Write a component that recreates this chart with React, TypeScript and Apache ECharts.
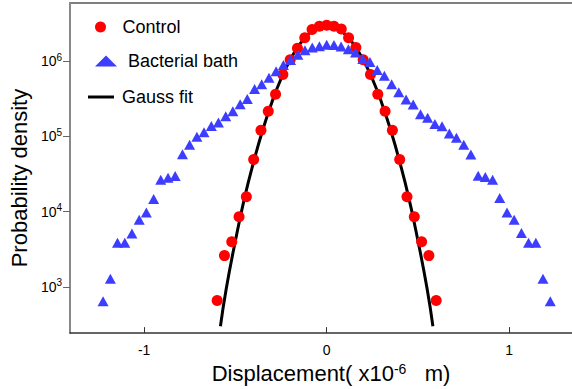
import React, { useEffect, useRef } from "react";
import * as echarts from "echarts";

// Control (red circles)
const controlX = [
  -0.6, -0.56, -0.52, -0.48, -0.44, -0.4, -0.36, -0.32, -0.28, -0.24, -0.2, -0.16, -0.12, -0.08, -0.04, 0,
  0.04, 0.08, 0.12, 0.16, 0.2, 0.24, 0.28, 0.32, 0.36, 0.4, 0.44, 0.48, 0.52, 0.56, 0.6,
];
const controlY = [
  660, 2600, 3970, 8530, 15700, 49300, 120500, 215000, 363000, 660000, 1040000, 1480000, 2040000, 2620000, 2890000, 2980000,
  2890000, 2670000, 2040000, 1510000, 1040000, 660000, 363000, 215000, 120500, 49300, 15700, 8530, 3970, 2600, 660,
];

// Bacterial bath (blue triangles)
const bathX = [
  -1.225, -1.185, -1.146, -1.106, -1.067, -1.027, -0.988, -0.948, -0.909, -0.869, -0.83, -0.79, -0.751, -0.711, -0.672, -0.632,
  -0.593, -0.553, -0.514, -0.474, -0.435, -0.395, -0.356, -0.316, -0.277, -0.237, -0.198, -0.158, -0.119, -0.079, -0.04, 0,
  0.04, 0.079, 0.119, 0.158, 0.198, 0.237, 0.277, 0.316, 0.356, 0.395, 0.435, 0.474, 0.514, 0.553, 0.593, 0.632,
  0.672, 0.711, 0.751, 0.79, 0.83, 0.869, 0.909, 0.948, 0.988, 1.027, 1.067, 1.106, 1.146, 1.185, 1.225,
];
const bathY = [
  646, 1280, 3850, 3850, 5100, 7800, 9700, 14700, 26400, 28200, 29600, 57800, 77400, 98400, 113000, 137000,
  152000, 185000, 215000, 266000, 314000, 424000, 493000, 600000, 729000, 887000, 1030000, 1216000, 1393000, 1510000, 1570000, 1644000,
  1633000, 1556000, 1436000, 1300000, 1062000, 970000, 762000, 637000, 493000, 385000, 309000, 264000, 197000, 176000, 146000, 136000,
  109000, 95500, 77400, 57300, 29900, 28900, 26400, 15200, 9700, 7800, 5200, 3850, 3850, 1280, 646,
];

// Gauss fit (black curve)
const fitX = [
  -0.582, -0.55, -0.5, -0.45, -0.4, -0.35, -0.3, -0.25, -0.2, -0.15, -0.1, -0.05, 0,
  0.05, 0.1, 0.15, 0.2, 0.25, 0.3, 0.35, 0.4, 0.45, 0.5, 0.55, 0.582,
];
const fitY = [
  300, 950, 4100, 15200, 45900, 122000, 284000, 581000, 1040000, 1640000, 2270000, 2770000, 2950000,
  2770000, 2270000, 1640000, 1040000, 581000, 284000, 122000, 45900, 15200, 4100, 950, 300,
];

const xTicks = [-1, 0, 1];
const yTicks = [1000, 10000, 100000, 1000000];

const pairs = (xs: number[], ys: number[]) => xs.map((x, i) => [x, ys[i]]);

export default function App() {
  const ref = useRef<HTMLDivElement>(null);
  useEffect(() => {
    document.body.style.margin = "0";
    const chart = echarts.init(ref.current!, null, { renderer: "svg" });
    const font = "'Liberation Sans', Arial, sans-serif";
    const X_MIN = -1.406;
    const X_MAX = 1.344;
    const Y_MIN = 243;
    const Y_MAX = 5900000;
    const legendBase = {
      orient: "vertical",
      padding: 0,
      itemWidth: 22,
      itemHeight: 11,
      selectedMode: false,
      textStyle: { fontSize: 18, color: "#000", fontFamily: font, padding: [0, 0, 0, 6] },
    };
    chart.setOption({
      animation: false,
      textStyle: { fontFamily: font },
      grid: { left: 69, right: -3, top: 3, bottom: 51, show: false },
      graphic: [
        {
          type: "line",
          shape: { x1: 69, y1: 3, x2: 572, y2: 3 },
          style: { stroke: "#555", lineWidth: 1.5 },
          silent: true,
        },
      ],
      legend: [
        { ...legendBase, data: ["Control"], left: 95, top: 18 },
        { ...legendBase, data: ["Bacterial bath"], left: 95, top: 52 },
        {
          ...legendBase,
          data: [{ name: "Gauss fit", icon: "rect" }],
          left: 88,
          top: 88,
          itemWidth: 26,
          itemHeight: 3,
          textStyle: { ...legendBase.textStyle, padding: [0, 0, 0, 3] },
        },
      ],
      xAxis: {
        type: "value",
        min: X_MIN,
        max: X_MAX,
        position: "bottom",
        axisLine: { show: true, onZero: false, lineStyle: { color: "#333", width: 1.5 } },
        axisTick: { show: true, inside: true, length: 6, customValues: xTicks, lineStyle: { color: "#333" } },
        axisLabel: { customValues: xTicks, margin: 10, fontSize: 14, color: "#000" },
        splitLine: { show: false },
        splitArea: { show: false },
        minorTick: { show: false },
        minorSplitLine: { show: false },
        name: "Displacement( x10{sup|-6}   m)",
        nameLocation: "middle",
        nameGap: 22,
        nameTextStyle: {
          fontSize: 22,
          color: "#000",
          padding: [0, 0, 0, 20],
          rich: { sup: { fontSize: 14, verticalAlign: "top", color: "#000" } },
        },
      },
      yAxis: {
        type: "log",
        logBase: 10,
        min: Y_MIN,
        max: Y_MAX,
        position: "left",
        axisLine: { show: true, onZero: false, lineStyle: { color: "#888", width: 2 } },
        axisTick: { show: true, length: 7, customValues: yTicks, lineStyle: { color: "#666" } },
        axisLabel: {
          customValues: yTicks,
          margin: 8,
          formatter: (v: number) => `{b|10}{s|${Math.round(Math.log10(v))}}`,
          rich: {
            b: { fontSize: 14, color: "#000", lineHeight: 18 },
            s: { fontSize: 10, color: "#000", verticalAlign: "top", lineHeight: 10 },
          },
        },
        splitLine: { show: false },
        splitArea: { show: false },
        minorTick: { show: false },
        minorSplitLine: { show: false },
        name: "Probability density",
        nameLocation: "middle",
        nameGap: 28,
        nameTextStyle: { fontSize: 22, color: "#000", padding: [0, 20, 0, 0] },
      },
      series: [
        {
          name: "Gauss fit",
          type: "line",
          data: pairs(fitX, fitY),
          smooth: true,
          symbol: "none",
          lineStyle: { color: "#000", width: 3 },
          itemStyle: { color: "#000" },
          z: 1,
        },
        {
          name: "Control",
          type: "scatter",
          data: pairs(controlX, controlY),
          symbol: "circle",
          symbolSize: 11,
          itemStyle: { color: "#ff0000", opacity: 1 },
          z: 2,
        },
        {
          name: "Bacterial bath",
          type: "scatter",
          data: pairs(bathX, bathY),
          symbol: "triangle",
          symbolSize: [11, 10],
          itemStyle: { color: "#3d3dff", opacity: 1 },
          z: 3,
        },
      ],
    });
    return () => chart.dispose();
  }, []);
  return <div ref={ref} style={{ width: 572, height: 389 }} />;
}
